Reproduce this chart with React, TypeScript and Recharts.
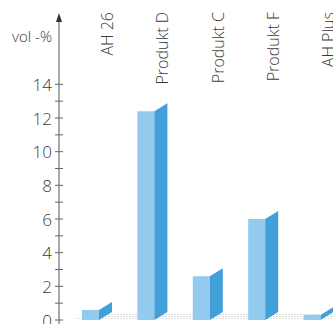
import React from "react";
import { BarChart, Bar, XAxis, YAxis, ReferenceArea } from "recharts";

const categories = ["AH 26", "Produkt D", "Produkt C", "Produkt F", "AH Plus"];
const volPercent = [0.6, 12.4, 2.6, 6.0, 0.3];
const yTicks = [0, 1, 2, 3, 4, 5, 6, 7, 8, 9, 10, 11, 12, 13, 14];
const yLabel = "vol -%";

const data = categories.map((name, i) => ({ name, value: volPercent[i] }));

const FONT = "'Open Sans', 'DejaVu Sans', sans-serif";
const FRONT = "#92cbee";
const SIDE = "#41a0d9";
const FRONT_W = 17;
const DEPTH_Y = 8;

const Bar3D = (props: any) => {
  const { x, y, width, height } = props;
  if (height == null || width == null) return null;
  const fx = x;
  const sx = x + FRONT_W;
  const ex = x + width;
  const bottom = y + height;
  return (
    <g>
      <rect x={fx} y={y} width={FRONT_W} height={height} fill={FRONT} />
      <polygon
        points={`${sx},${y} ${ex},${y - DEPTH_Y} ${ex},${bottom - DEPTH_Y} ${sx},${bottom}`}
        fill={SIDE}
      />
    </g>
  );
};

const Floor = (props: any) => {
  const { x, y, width, height } = props;
  const top = y;
  const bottom = y + height;
  return (
    <g>
      <defs>
        <pattern id="floorPat" width="3" height="2" patternUnits="userSpaceOnUse">
          <rect width="2" height="1" fill="#9a9a9a" fillOpacity={0.35} />
        </pattern>
      </defs>
      <polygon
        points={`${x + 4},${bottom} ${x + 16},${top} ${x + width},${top} ${x + width},${bottom}`}
        fill="url(#floorPat)"
      />
    </g>
  );
};

const YTick = (props: any) => {
  const { x, y, payload } = props;
  const v = payload.value;
  return (
    <g>
      <line x1={x - 4} x2={x + 4} y1={y} y2={y} stroke="#666" strokeWidth={1} />
      {v % 2 === 0 && (
        <text
          x={x - 7}
          y={y}
          textAnchor="end"
          dominantBaseline="central"
          fontFamily={FONT}
          fontSize={17}
          fontWeight={300}
          fill="#3a3a3a"
        >
          {v}
        </text>
      )}
    </g>
  );
};

const XTick = (props: any) => {
  const { x, payload } = props;
  const bx = x + 16;
  const by = 12;
  return (
    <text
      x={bx}
      y={by}
      transform={`rotate(-90, ${bx}, ${by})`}
      textAnchor="end"
      fontFamily={FONT}
      fontSize={16}
      fontWeight={300}
      fill="#3a3a3a"
    >
      {payload.value}
    </text>
  );
};

const AxisDecor = (props: any) => {
  const vb = props.viewBox || {};
  const ax = (vb.x || 0) + (vb.width || 0);
  const top = vb.y || 0;
  const bottom = top + (vb.height || 0);
  const tip = top - 4;
  return (
    <g>
      <line x1={ax} x2={ax} y1={tip + 6} y2={top} stroke="#555" strokeWidth={1} />
      <line x1={ax} x2={ax} y1={bottom} y2={bottom + 6} stroke="#555" strokeWidth={1} />
      <polygon points={`${ax},${tip} ${ax - 3},${tip + 9} ${ax + 3},${tip + 9}`} fill="#333" />
      <text
        x={ax - 7}
        y={top + 19}
        textAnchor="end"
        dominantBaseline="central"
        fontFamily={FONT}
        fontSize={15}
        fontWeight={300}
        fill="#3a3a3a"
      >
        {yLabel}
      </text>
    </g>
  );
};

export default function App() {
  return (
    <div style={{ width: 333, height: 324, overflow: "hidden", background: "#fff" }}>
      <style>{`body{margin:0;background:#fff}`}</style>
      <BarChart
        width={360}
        height={324}
        data={data}
        margin={{ top: 0, right: 14, bottom: 4, left: 0 }}
        barCategoryGap={0}
      >
        <XAxis
          dataKey="name"
          orientation="top"
          height={17}
          axisLine={false}
          tickLine={false}
          padding={{ left: 10, right: 0 }}
          tick={<XTick />}
          interval={0}
        />
        <YAxis
          width={59}
          domain={[0, 18]}
          ticks={yTicks}
          interval={0}
          tickSize={0}
          tickMargin={0}
          tickLine={false}
          axisLine={{ stroke: "#555" }}
          tick={<YTick />}
          label={<AxisDecor />}
          allowDataOverflow
        />
        <ReferenceArea y1={0} y2={0.36} shape={<Floor />} />
        <Bar dataKey="value" barSize={30} shape={<Bar3D />} isAnimationActive={false} />
      </BarChart>
    </div>
  );
}
